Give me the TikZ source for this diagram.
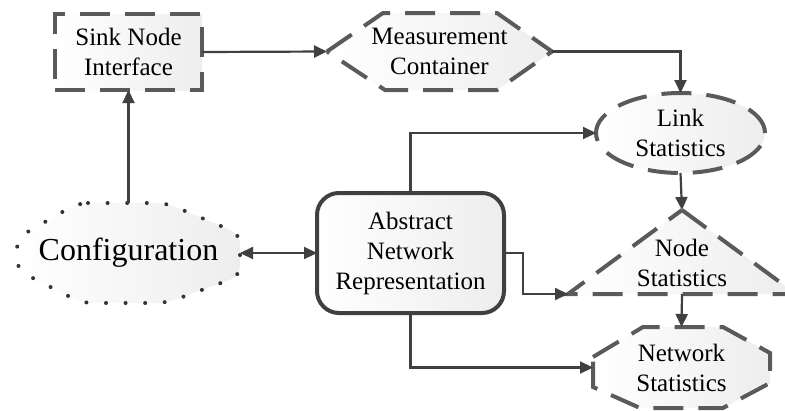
\documentclass[tikz,border=0pt]{standalone}
\usepackage{fontspec}
\setmainfont{Liberation Serif}
\usetikzlibrary{arrows.meta,shapes.geometric,backgrounds}
\definecolor{edgegray}{HTML}{5A5A5A}
\definecolor{wiregray}{HTML}{404040}
\definecolor{dotgray}{HTML}{333333}
\begin{document}
\begin{tikzpicture}[x=1pt,y=-1pt,
  txt/.style={font=\fontsize{25}{30}\selectfont, align=center, inner sep=0pt, outer sep=0pt},
  dashedge/.style={draw=edgegray, line width=4pt, dash pattern=on 30pt off 15pt},
  dotline/.style={draw=dotgray, line width=4pt, line cap=round, dash pattern=on 0pt off 19.6pt},
  softfill/.style={left color=white, right color=black!7},
  wire/.style={draw=wiregray, line width=2.2pt, -{Triangle[length=13pt,width=12pt]}},
]
\useasboundingbox (0,0) rectangle (785,410);

% ---- blocks ----
\node[txt, dashedge, softfill, minimum width=147pt, minimum height=76pt] (sink) at (128.5,52) {Sink Node\\Interface};
\node[txt, minimum width=225pt, minimum height=77pt] (meas) at (439.5,51.5) {Measurement\\Container};
\node[txt, ellipse, dashedge, softfill, minimum width=169pt, minimum height=80pt] (link) at (680.5,133) {Link\\Statistics};
\node[txt, font=\fontsize{32}{38}\selectfont, minimum width=223pt, minimum height=100pt] (conf) at (128.5,253) {Configuration};
\node[txt, draw=wiregray, line width=4pt, rounded corners=22pt, softfill, minimum width=187pt, minimum height=120pt] (anr) at (410.5,253) {Abstract\\Network\\Representation};
\node[minimum width=228pt, minimum height=84pt, inner sep=0pt, outer sep=0pt] (ntri) at (682,252) {};
\node[txt] (nstat) at (682,263) {Node\\Statistics};
\node[txt, minimum width=177pt, minimum height=81pt] (net) at (681.5,367.5) {Network\\Statistics};

% ---- outlines drawn behind the labels ----
\begin{scope}[on background layer]
  \draw[dashedge, softfill] (meas.west) -- ([xshift=56pt]meas.north west) -- ([xshift=-55pt]meas.north east)
        -- (meas.east) -- ([xshift=-55pt]meas.south east) -- ([xshift=58pt]meas.south west) -- cycle;
  \draw[dashedge, softfill] (ntri.north) -- (ntri.south east) -- (ntri.south west) -- cycle;
  \draw[dashedge, softfill] ([shift={(0,30)}]net.north west) -- ([shift={(50,0)}]net.north west)
        -- ([shift={(130,0)}]net.north west) -- ([shift={(177,26)}]net.north west)
        -- ([shift={(177,56)}]net.north west) -- ([shift={(130,81)}]net.north west)
        -- ([shift={(47,81)}]net.north west) -- ([shift={(0,60)}]net.north west) -- cycle;
  \draw[dotline, softfill, rounded corners=10pt] (78,203) -- (166,203) -- (240,234) -- (240,276)
        -- (166,303) -- (82,303) -- (17,270) -- (17,238) -- cycle;
\end{scope}

% ---- connectors ----
\draw[wire] (conf.north) -- (sink.south);
\draw[wire, {Triangle[length=13pt,width=12pt]}-{Triangle[length=13pt,width=12pt]}] (conf.east) -- (anr.west);
\draw[wire] (sink.east) -- (meas.west);
\draw[wire] (meas.east) -| (link.north);
\draw[wire] (anr.north) |- (link.west);
\draw[wire] (link.south) -- (ntri.north);
\draw[wire] (anr.east) -- ++(19,0) |- (ntri.south west);
\draw[wire] (ntri.south) -- (net.north);
\draw[wire] (anr.south) |- (net.west);
\end{tikzpicture}
\end{document}
